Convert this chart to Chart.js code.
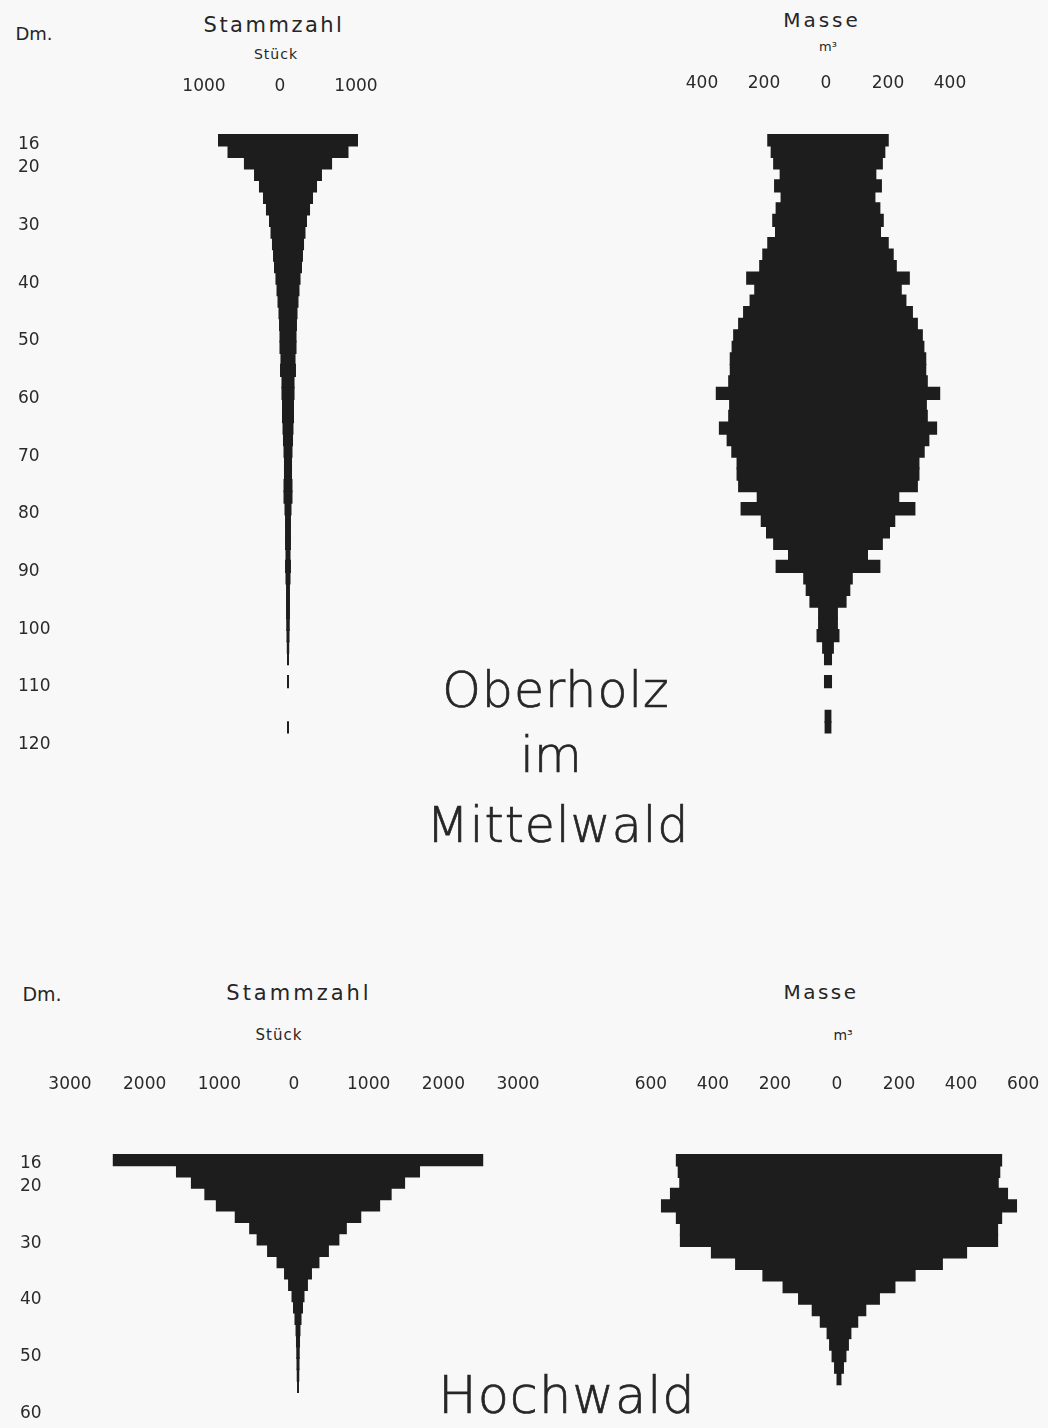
<!DOCTYPE html>
<html>
<head>
<meta charset="utf-8">
<script src="https://cdn.jsdelivr.net/npm/chart.js@4.4.1/dist/chart.umd.min.js"></script>
<style>
  body { margin: 0; background: #f8f8f8; }
  #page { position: relative; width: 1048px; height: 1428px; overflow: hidden; font-family: "DejaVu Sans", sans-serif; color: #262626; }
  canvas { position: absolute; }
  .t { position: absolute; transform: translate(-50%, -50%); white-space: nowrap; }
  .big { font-size: 49px; font-weight: 200; letter-spacing: 1px; -webkit-text-stroke: 0.7px #262626; }
</style>
</head>
<body>
<div id="page">
  <canvas id="oberStammChart" width="520" height="686" style="left:0;top:74px"></canvas>
  <canvas id="oberMasseChart" width="400" height="686" style="left:630px;top:74px"></canvas>
  <canvas id="hochStammChart" width="552" height="354" style="left:0;top:1074px"></canvas>
  <canvas id="hochMasseChart" width="418" height="354" style="left:630px;top:1074px"></canvas>

  <div class="t" style="left:34px;top:33px;font-size:18px">Dm.</div>
  <div class="t" style="left:274px;top:25px;font-size:21px;letter-spacing:2.5px">Stammzahl</div>
  <div class="t" style="left:276px;top:54px;font-size:14px;letter-spacing:1px">Stück</div>
  <div class="t" style="left:822px;top:20px;font-size:20px;letter-spacing:3px">Masse</div>
  <div class="t" style="left:828px;top:46px;font-size:13px">m³</div>
  <div class="t big" style="left:556px;top:690px">Oberholz</div>
  <div class="t big" style="left:551px;top:755px;letter-spacing:0">im</div>
  <div class="t big" style="left:558px;top:825px">Mittelwald</div>

  <div class="t" style="left:42px;top:994px;font-size:19px">Dm.</div>
  <div class="t" style="left:299px;top:993px;font-size:21px;letter-spacing:3px">Stammzahl</div>
  <div class="t" style="left:279px;top:1035px;font-size:15px;letter-spacing:1px">Stück</div>
  <div class="t" style="left:821px;top:992px;font-size:20px;letter-spacing:2.5px">Masse</div>
  <div class="t" style="left:843px;top:1035px;font-size:14px">m³</div>
  <div class="t big" style="left:567px;top:1395px;font-size:51px">Hochwald</div>
</div>
<script>
// Durchmesserstufen (cm), 2-cm-Stufen
const oberDm = [16, 18, 20, 22, 24, 26, 28, 30, 32, 34, 36, 38, 40, 42, 44, 46, 48, 50, 52, 54,
  56, 58, 60, 62, 64, 66, 68, 70, 72, 74, 76, 78, 80, 82, 84, 86, 88, 90, 92, 94,
  96, 98, 100, 102, 104, 106, 108, 110, 112, 114, 116, 118];
// Oberholz im Mittelwald - Stammzahl (Stueck)
const oberStamm = [921, 796, 580, 447, 382, 329, 290, 250, 230, 211, 197, 184, 165, 151, 138, 125, 118, 112, 112, 99,
  105, 86, 86, 79, 79, 72, 66, 59, 53, 53, 59, 59, 46, 39, 39, 39, 33, 39, 33, 26,
  26, 26, 23, 20, 16, 13, 0, 13, 0, 0, 0, 13];
// Oberholz im Mittelwald - Masse (m3)
const oberMasse = [196, 185, 177, 156, 174, 153, 169, 180, 171, 196, 212, 222, 264, 238, 253, 274, 290, 306, 311, 317,
  317, 322, 362, 319, 322, 352, 327, 312, 295, 295, 290, 230, 282, 217, 200, 177, 129, 169, 80, 72,
  60, 32, 32, 37, 19, 13, 0, 13, 0, 0, 11, 11];

const hochDm = [16, 18, 20, 22, 24, 26, 28, 30, 32, 34, 36, 38, 40, 42, 44, 46, 48, 50, 52, 54, 56];
// Hochwald - Stammzahl (Stueck)
const hochStamm = [2480, 1634, 1434, 1254, 1100, 847, 654, 554, 414, 287, 187, 133, 87, 67, 47, 33, 27, 23, 20, 17, 13];
// Hochwald - Masse (m3)
const hochMasse = [526, 520, 515, 545, 574, 526, 513, 513, 413, 335, 247, 182, 132, 88, 62, 40, 32, 24, 16, 8, 0];

// Achsenbeschriftungen
const oberDmTicks = [16, 20, 30, 40, 50, 60, 70, 80, 90, 100, 110, 120];
const hochDmTicks = [16, 20, 30, 40, 50, 60];
const oberStammTicks = [-1000, 0, 1000];
const oberMasseTicks = [-400, -200, 0, 200, 400];
const hochStammTicks = [-3000, -2000, -1000, 0, 1000, 2000, 3000];
const hochMasseTicks = [-600, -400, -200, 0, 200, 400, 600];

const ink = "#1d1d1d";
const tickFont = { family: "DejaVu Sans", size: 17 };

function pyramid(id, dm, values, o) {
  var ctx = document.getElementById(id).getContext("2d");
  return new Chart(ctx, {
    type: "bar",
    data: {
      datasets: [
        {
          data: dm.map(function (d, i) {
            return { y: d + 1, x: [-values[i], values[i]] };
          }),
          backgroundColor: ink,
          borderWidth: 0,
          // a little overlap so no seams show between the steps
          barPercentage: 1.15,
          categoryPercentage: 1,
        },
      ],
    },
    options: {
      indexAxis: "y",
      responsive: false,
      animation: false,
      devicePixelRatio: 1,
      layout: { padding: o.padding },
      plugins: { legend: { display: false }, tooltip: { enabled: false } },
      scales: {
        x: {
          type: "linear",
          position: "top",
          min: -o.xMax,
          max: o.xMax,
          offset: false,
          // tick marks are hidden, their length only lifts the labels
          grid: { display: false, drawTicks: true, tickLength: o.xLift },
          border: { display: false },
          afterBuildTicks: function (s) {
            s.ticks = o.xTicks.map(function (v) { return { value: v }; });
          },
          afterFit: function (s) { s.height = o.xHeight; },
          ticks: {
            color: "#2a2a2a",
            font: tickFont,
            padding: 3,
            labelOffset: o.xLabelOffset,
            maxRotation: 0,
            autoSkip: false,
            callback: function (v) { return Math.abs(v); },
          },
        },
        y: {
          type: "linear",
          reverse: true,
          min: 16,
          max: o.yMax,
          offset: false,
          display: o.showDm,
          grid: { display: false, drawTicks: false },
          border: { display: false },
          afterBuildTicks: function (s) {
            s.ticks = o.yTicks.map(function (v) { return { value: v }; });
          },
          afterFit: function (s) { s.width = o.showDm ? 42 : 0; },
          ticks: {
            color: "#2a2a2a",
            font: { family: "DejaVu Sans", size: 17 },
            crossAlign: "far",
            labelOffset: o.yLabelOffset,
            autoSkip: false,
          },
        },
      },
    },
  });
}

pyramid("oberStammChart", oberDm, oberStamm, {
  xMax: 3000, xTicks: oberStammTicks, yMax: 120, yTicks: oberDmTicks, showDm: true,
  padding: { left: 18, right: 4, top: 0, bottom: 26.4 },
  xHeight: 60, xLift: 34, xLabelOffset: -8, yLabelOffset: 11,
});
pyramid("oberMasseChart", oberDm, oberMasse, {
  xMax: 600, xTicks: oberMasseTicks, yMax: 120, yTicks: oberDmTicks, showDm: false,
  padding: { left: 12, right: 16, top: 0, bottom: 26.4 },
  xHeight: 60, xLift: 37, xLabelOffset: -2, yLabelOffset: 11,
});
pyramid("hochStammChart", hochDm, hochStamm, {
  xMax: 3160, xTicks: hochStammTicks, yMax: 62, yTicks: hochDmTicks, showDm: true,
  padding: { left: 20, right: 18, top: 0, bottom: 9 },
  xHeight: 80, xLift: 56, xLabelOffset: -4, yLabelOffset: 10,
});
pyramid("hochMasseChart", hochDm, hochMasse, {
  xMax: 648, xTicks: hochMasseTicks, yMax: 62, yTicks: hochDmTicks, showDm: false,
  padding: { left: 8, right: 8, top: 0, bottom: 9 },
  xHeight: 80, xLift: 56, xLabelOffset: -2, yLabelOffset: 10,
});
</script>
</body>
</html>
